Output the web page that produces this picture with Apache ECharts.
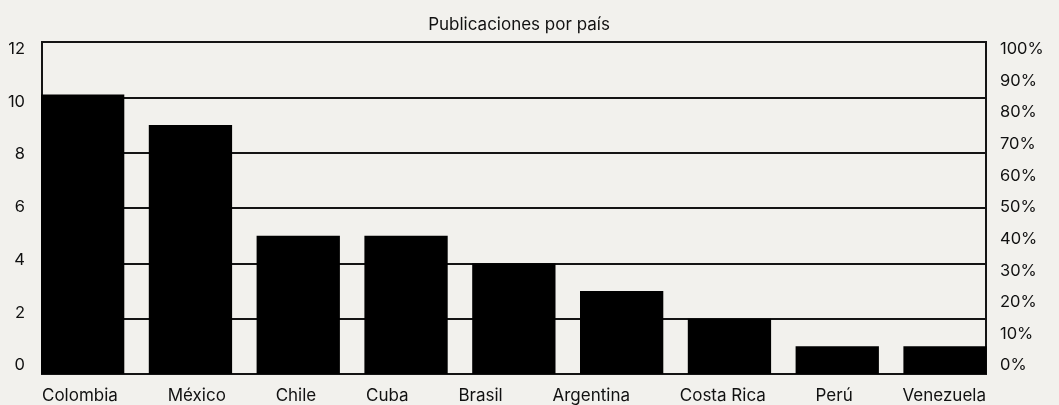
<!DOCTYPE html>
<html>
<head>
<meta charset="utf-8">
<script src="https://cdn.jsdelivr.net/npm/echarts@6/dist/echarts.min.js"></script>
<style>
html,body{margin:0;padding:0;background:#f2f1ed;}
#c{width:1059px;height:405px;}
</style>
</head>
<body>
<div id="c"></div>
<script>
const title = 'Publicaciones por país';
const categories = ['Colombia', 'México', 'Chile', 'Cuba', 'Brasil', 'Argentina', 'Costa Rica', 'Perú', 'Venezuela'];
const values = [10.1, 9, 5, 5, 4, 3, 2, 1, 1];
const leftTicks = ['0', '2', '4', '6', '8', '10', '12'];
const rightTicks = ['0%', '10%', '20%', '30%', '40%', '50%', '60%', '70%', '80%', '90%', '100%'];

const FONT = 'Inter';
const FS = 17;
const W = 1059, H = 405;
// plot frame
const plotL = 42, plotR = 986, plotT = 42, plotB = 374;
// bars: leftmost bar flush with left frame, rightmost flush with right frame
const barW = 83.3;
const gap = ((plotR + 0.7 - (plotL - 1)) - categories.length * barW) / (categories.length - 1);
const pitch = barW + gap;
const barGridL = (plotL - 1) - gap / 2;
const barGridW = pitch * categories.length;

// x labels laid out justified across the frame (fixed equal gaps), like the source
const mctx = document.createElement('canvas').getContext('2d');
mctx.font = FS + 'px ' + FONT;
const widths = categories.map(c => mctx.measureText(c).width);
const sumW = widths.reduce((a, b) => a + b, 0);
const lgap = ((plotR) - plotL - sumW) / (categories.length - 1);
let cursor = plotL;
const catData = categories.map((c, i) => {
  const center = cursor + widths[i] / 2;
  cursor += widths[i] + lgap;
  const tick = barGridL + pitch * (i + 0.5);
  const off = center - tick;
  const pl = off > 0 ? 2 * off : 0;
  const pr = off < 0 ? -2 * off : 0;
  return { value: c, textStyle: { padding: [0, pr, 0, pl] } };
});

const lineCol = '#141414';
const txt = '#111111';

const chart = echarts.init(document.getElementById('c'), null, { renderer: 'canvas' });
chart.setOption({
  backgroundColor: '#f2f1ed',
  animation: false,
  textStyle: { fontFamily: FONT },
  title: {
    text: title,
    left: (plotL + plotR) / 2,
    textAlign: 'center',
    top: 11,
    textStyle: { fontFamily: FONT, fontSize: 17, fontWeight: 'normal', color: txt }
  },
  grid: [
    // frame + gridlines
    { left: plotL, top: plotT, width: plotR - plotL, height: plotB - plotT, show: true, borderColor: lineCol, borderWidth: 2, backgroundColor: 'transparent' },
    // bars
    { left: barGridL, top: plotT, width: barGridW, height: plotB - plotT },
    // tick labels (source places them on a slightly inset scale)
    { left: plotL, top: 49, width: plotR - plotL, height: 365.5 - 49 }
  ],
  xAxis: [
    { gridIndex: 0, type: 'value', show: false, min: 0, max: 1 },
    {
      gridIndex: 1, type: 'category', data: catData,
      axisLine: { show: false }, axisTick: { show: false }, splitLine: { show: false },
      axisLabel: { margin: 13, fontFamily: FONT, fontSize: FS, color: txt, interval: 0 }
    },
    { gridIndex: 2, type: 'value', show: false, min: 0, max: 1 }
  ],
  yAxis: [
    {
      gridIndex: 0, type: 'value', min: 0, max: 12, interval: 2,
      axisLine: { show: false }, axisTick: { show: false }, axisLabel: { show: false },
      splitLine: { show: true, lineStyle: { color: lineCol, width: 2 } }
    },
    { gridIndex: 1, type: 'value', min: 0, max: 12, show: false, splitLine: { show: false } },
    {
      gridIndex: 2, type: 'value', position: 'left', min: 0, max: 12, interval: 2,
      axisLine: { show: false }, axisTick: { show: false }, splitLine: { show: false },
      axisLabel: { margin: 17, fontFamily: FONT, fontSize: 16.5, color: txt, formatter: (v) => leftTicks[Math.round(v / 2)] }
    },
    {
      gridIndex: 2, type: 'value', position: 'right', min: 0, max: 100, interval: 10,
      axisLine: { show: false }, axisTick: { show: false }, splitLine: { show: false },
      axisLabel: { margin: 14, fontFamily: FONT, fontSize: 16.5, color: txt, formatter: (v) => rightTicks[Math.round(v / 10)] }
    }
  ],
  series: [
    {
      type: 'bar', xAxisIndex: 1, yAxisIndex: 1,
      data: values, barWidth: barW,
      itemStyle: { color: '#000000' },
      silent: true
    }
  ]
});
</script>
</body>
</html>
